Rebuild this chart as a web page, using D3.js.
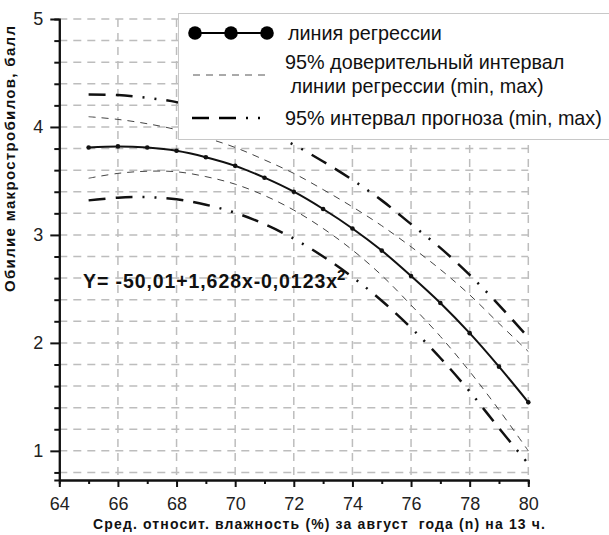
<!DOCTYPE html>
<html><head><meta charset="utf-8">
<script src="https://cdn.jsdelivr.net/npm/d3@7"></script>
<style>
html,body{margin:0;padding:0;background:#fff;}
text{font-family:"Liberation Sans",Arial,sans-serif;}
</style></head>
<body>
<svg id="chart" width="609" height="535"></svg>
<script>
// ---- data ----
const humidity = [65,66,67,68,69,70,71,72,73,74,75,76,77,78,79,80];
const regression = [3.81,3.82,3.81,3.78,3.72,3.64,3.53,3.40,3.24,3.06,2.855,2.62,2.37,2.09,1.78,1.45];
const confUpper  = [4.095,4.07,4.03,3.975,3.90,3.81,3.695,3.57,3.42,3.26,3.085,2.89,2.68,2.445,2.18,1.92];
const confLower  = [3.525,3.57,3.59,3.585,3.54,3.47,3.365,3.23,3.06,2.86,2.625,2.35,2.06,1.735,1.38,1.00];
const predUpper  = [4.30,4.295,4.27,4.23,4.16,4.075,3.96,3.835,3.68,3.51,3.32,3.10,2.88,2.63,2.35,2.05];
const predLower  = [3.32,3.345,3.35,3.33,3.28,3.205,3.10,2.965,2.80,2.61,2.39,2.14,1.86,1.55,1.21,0.88];
const xMajorTicks = [64,66,68,70,72,74,76,78,80];
const xMinorTicks = [65,67,69,71,73,75,77,79];
const yMajorTicks = [1,2,3,4,5];
const yMinorTicks = [0.8,1.2,1.4,1.6,1.8,2.2,2.4,2.6,2.8,3.2,3.4,3.6,3.8,4.2,4.4,4.6,4.8];
const yGridValues = [0.8,1,1.2,1.4,1.6,1.8,2,2.2,2.4,2.6,2.8,3,3.2,3.4,3.6,3.8,4,4.2,4.4,4.6,4.8,5];
const xGridValues = [66,68,70,72,74,76,78,80];
const legendLabels = ["линия регрессии","95% доверительный интервал"," линии регрессии (min, max)","95% интервал прогноза (min, max)"];
const xTitle = "Сред. относит. влажность (%) за август  года (n) на 13 ч.";
const yTitle = "Обилие макростробилов, балл";
const equation = "Y= -50,01+1,628x-0,0123x";

// ---- drawing ----
const svg = d3.select("#chart");
const x = d3.scaleLinear().domain([64,80]).range([59.3,528.3]);
const y = d3.scaleLinear().domain([0.73,5]).range([480,19]);

const grid = svg.append("g");
grid.selectAll("line.h").data(yGridValues).join("line")
  .attr("x1",x(64)).attr("x2",x(80)).attr("y1",d=>y(d)).attr("y2",d=>y(d))
  .attr("stroke","#bdbdbd").attr("stroke-width",1.5).attr("stroke-dasharray","8,6");
grid.selectAll("line.v").data(xGridValues).join("line")
  .attr("x1",d=>x(d)).attr("x2",d=>x(d)).attr("y1",y(5)).attr("y2",y(0.73))
  .attr("stroke","#bdbdbd").attr("stroke-width",1.5).attr("stroke-dasharray","8,6");

const pts = arr => humidity.map((h,i)=>[h,arr[i]]);
const line = d3.line().x(d=>x(d[0])).y(d=>y(d[1])).curve(d3.curveCatmullRom);

svg.append("path").attr("d",line(pts(confUpper))).attr("fill","none")
  .attr("stroke","#444").attr("stroke-width",1).attr("stroke-dasharray","7,6");
svg.append("path").attr("d",line(pts(confLower))).attr("fill","none")
  .attr("stroke","#444").attr("stroke-width",1).attr("stroke-dasharray","7,6");
const predDash = "17,10,17,10,2,10,2,10";
svg.append("path").attr("d",line(pts(predUpper))).attr("fill","none")
  .attr("stroke","#111").attr("stroke-width",2.5).attr("stroke-dasharray",predDash);
svg.append("path").attr("d",line(pts(predLower))).attr("fill","none")
  .attr("stroke","#111").attr("stroke-width",2.5).attr("stroke-dasharray",predDash);
svg.append("path").attr("d",line(pts(regression))).attr("fill","none")
  .attr("stroke","#111").attr("stroke-width",2);
svg.selectAll("circle.reg").data(pts(regression)).join("circle")
  .attr("cx",d=>x(d[0])).attr("cy",d=>y(d[1])).attr("r",2.3).attr("fill","#111");

// axes
function styleAxis(g){
  g.selectAll("path.domain").attr("stroke","#111").attr("stroke-width",2);
  g.selectAll(".tick line").attr("stroke","#111").attr("stroke-width",2);
  g.selectAll(".tick text").attr("fill","#222").style("font-size","18px")
    .style("font-family","'Liberation Sans',Arial,sans-serif");
}
svg.append("g").attr("transform",`translate(${x(64)},0)`)
  .call(d3.axisLeft(y).tickValues(yMinorTicks).tickSize(5).tickFormat(""))
  .call(styleAxis);
svg.append("g").attr("transform",`translate(${x(64)},0)`)
  .call(d3.axisLeft(y).tickValues(yMajorTicks).tickSize(9).tickSizeOuter(0).tickPadding(7).tickFormat(d3.format("d")))
  .call(styleAxis);
svg.append("g").attr("transform",`translate(0,${y(0.73)})`)
  .call(d3.axisBottom(x).tickValues(xMinorTicks).tickSize(4).tickFormat(""))
  .call(styleAxis);
svg.append("g").attr("transform",`translate(0,${y(0.73)})`)
  .call(d3.axisBottom(x).tickValues(xMajorTicks).tickSize(7).tickSizeOuter(0).tickPadding(10).tickFormat(d3.format("d")))
  .call(styleAxis);

// titles
svg.append("text").attr("x",319).attr("y",529).attr("text-anchor","middle")
  .style("font-size","14px").style("font-weight","bold").attr("fill","#111")
  .attr("xml:space","preserve").attr("textLength",452).attr("lengthAdjust","spacing").text(xTitle);
svg.append("text").attr("transform","translate(15,159) rotate(-90)").attr("text-anchor","middle")
  .style("font-size","15px").style("font-weight","bold").attr("fill","#111")
  .attr("textLength",266).attr("lengthAdjust","spacing").text(yTitle);

// equation
const eq = svg.append("text").attr("x",83).attr("y",288)
  .style("font-size","19.5px").style("font-weight","bold").attr("fill","#111");
eq.append("tspan").attr("textLength",254).attr("lengthAdjust","spacing").text(equation);
eq.append("tspan").attr("dx",-1).attr("dy",-8).style("font-size","15px").text("2");

// legend
const lg = svg.append("g");
lg.append("rect").attr("x",178.5).attr("y",13.5).attr("width",440).attr("height",126)
  .attr("fill","#fff").attr("stroke","#c8c8c8").attr("stroke-width",1);
lg.append("line").attr("x1",195).attr("x2",267).attr("y1",33).attr("y2",33)
  .attr("stroke","#000").attr("stroke-width",2.2);
lg.selectAll("circle").data([195,231,267]).join("circle")
  .attr("cx",d=>d).attr("cy",33).attr("r",6.8).attr("fill","#000");
lg.append("line").attr("x1",193).attr("x2",270).attr("y1",75).attr("y2",75)
  .attr("stroke","#555").attr("stroke-width",1).attr("stroke-dasharray","7,6");
lg.append("line").attr("x1",192).attr("x2",266).attr("y1",118).attr("y2",118)
  .attr("stroke","#000").attr("stroke-width",2.5).attr("stroke-dasharray",predDash);
const lpos = [[288,40],[285,69],[285,93],[285,125]];
lg.selectAll("text").data(legendLabels).join("text")
  .attr("x",(d,i)=>lpos[i][0]).attr("y",(d,i)=>lpos[i][1])
  .attr("xml:space","preserve")
  .style("font-size","19.8px").attr("fill","#111").text(d=>d);
</script>
</body></html>
